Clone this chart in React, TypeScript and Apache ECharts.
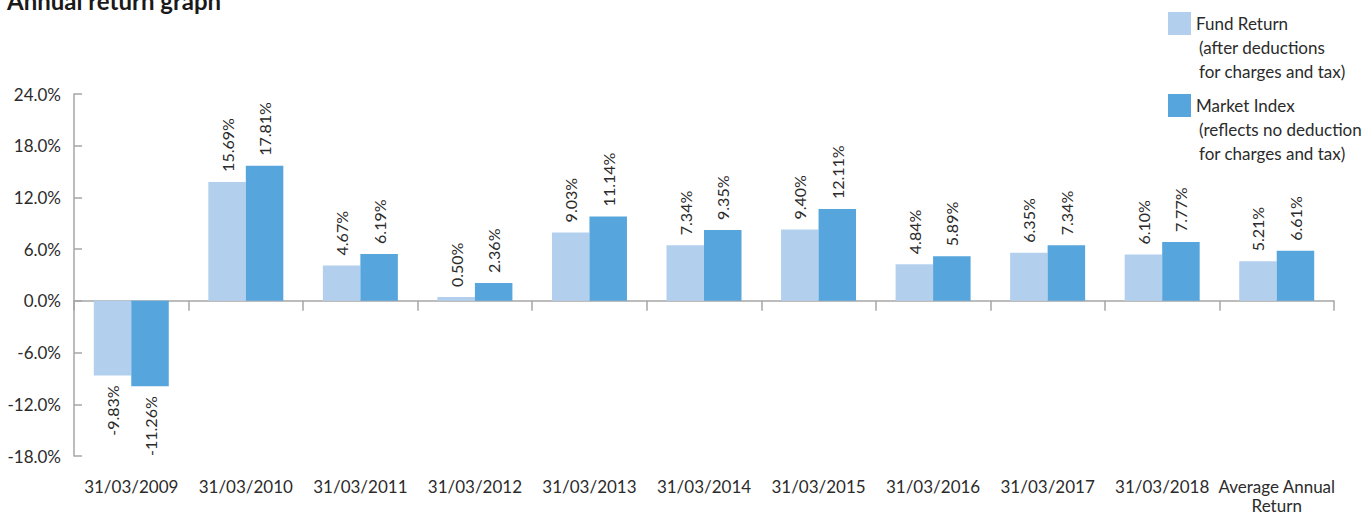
import React, { useEffect, useRef } from "react";
import * as echarts from "echarts";

const categories = [
  "31/03/2009",
  "31/03/2010",
  "31/03/2011",
  "31/03/2012",
  "31/03/2013",
  "31/03/2014",
  "31/03/2015",
  "31/03/2016",
  "31/03/2017",
  "31/03/2018",
  "Average Annual\nReturn",
];
const fundReturn = [-9.83, 15.69, 4.67, 0.5, 9.03, 7.34, 9.4, 4.84, 6.35, 6.1, 5.21];
const marketIndex = [-11.26, 17.81, 6.19, 2.36, 11.14, 9.35, 12.11, 5.89, 7.34, 7.77, 6.61];
const tickLabels = ["-18.0%", "-12.0%", "-6.0%", "0.0%", "6.0%", "12.0%", "18.0%", "24.0%"];
const seriesNames = ["Fund Return", "Market Index"];
const legendNotes = ["(after deductions\nfor charges and tax)", "(reflects no deduction\nfor charges and tax)"];

// the original chart's gridlines are spaced wider than its labelled step
const STEP = 6.82;

const FONT = "Lato, 'Noto Sans', sans-serif";
const LIGHT = "#b2d0ee";
const DARK = "#56a5dc";
const TEXT = "#2b2b2b";
const AXIS = "#a6a6a6";

function makeData(values: number[]) {
  return values.map((v) =>
    v < 0 ? { value: v, label: { position: "bottom", align: "right" } } : v
  );
}

export default function App() {
  const ref = useRef<HTMLDivElement>(null);
  useEffect(() => {
    if (!ref.current) return;
    const chart = echarts.init(ref.current, undefined, { renderer: "svg" });
    const labelCfg = {
      show: true,
      position: "top",
      rotate: 90,
      align: "left",
      verticalAlign: "middle",
      distance: 10,
      fontFamily: FONT,
      fontSize: 16,
      color: TEXT,
      formatter: (p: any) => p.value.toFixed(2) + "%",
    };
    chart.setOption({
      animation: false,
      textStyle: { fontFamily: FONT },
      title: {
        text: "Annual return graph",
        left: 7,
        top: -12,
        padding: 0,
        textStyle: { fontFamily: FONT, fontSize: 24, fontWeight: "bold", color: "#1a1a1a" },
      },
      legend: {
        orient: "vertical",
        left: 1163,
        top: 7,
        itemWidth: 23,
        itemHeight: 23,
        itemGap: 59,
        icon: "rect",
        selectedMode: false,
        data: seriesNames,
        textStyle: { fontFamily: FONT, fontSize: 17, color: TEXT },
      },
      graphic: legendNotes.map((t, i) => ({
        type: "text",
        left: 1199,
        top: 35 + i * 82,
        style: { text: t, fontFamily: FONT, fontSize: 17, fill: TEXT, lineHeight: 24 },
      })),
      grid: { left: 74, right: 34, top: 94, bottom: 52, containLabel: false },
      xAxis: [
        {
          type: "category",
          data: categories,
          position: "bottom",
          axisLine: { show: false, onZero: false },
          axisTick: { show: false },
          axisLabel: {
            margin: 21,
            fontFamily: FONT,
            fontSize: 17,
            color: TEXT,
            lineHeight: 19,
            interval: 0,
          },
        },
        {
          type: "category",
          data: categories,
          position: "bottom",
          axisLine: { show: true, onZero: true, lineStyle: { color: AXIS, width: 1.5 } },
          axisTick: { show: true, length: 10, lineStyle: { color: AXIS, width: 1.5 }, interval: 0 },
          axisLabel: { show: false },
        },
      ],
      yAxis: {
        type: "value",
        min: -3 * STEP,
        max: 4 * STEP,
        interval: STEP,
        axisLine: { show: true, lineStyle: { color: AXIS, width: 1.5 } },
        axisTick: { show: true, inside: true, length: 8, lineStyle: { color: AXIS, width: 1.5 } },
        splitLine: { show: false },
        axisLabel: {
          margin: 13,
          fontFamily: FONT,
          fontSize: 17,
          color: TEXT,
          formatter: (v: number) => tickLabels[Math.round(v / STEP) + 3],
        },
      },
      series: [
        {
          name: seriesNames[0],
          type: "bar",
          xAxisIndex: 0,
          data: makeData(fundReturn),
          barWidth: 37.5,
          barGap: "0%",
          itemStyle: { color: LIGHT },
          label: labelCfg,
        },
        {
          name: seriesNames[1],
          type: "bar",
          xAxisIndex: 0,
          data: makeData(marketIndex),
          barWidth: 37.5,
          barGap: "0%",
          itemStyle: { color: DARK },
          label: labelCfg,
        },
      ],
    });
    return () => chart.dispose();
  }, []);
  return (
    <div
      ref={ref}
      style={{ position: "fixed", left: 0, top: 0, width: 1368, height: 515, background: "#fff" }}
    />
  );
}
